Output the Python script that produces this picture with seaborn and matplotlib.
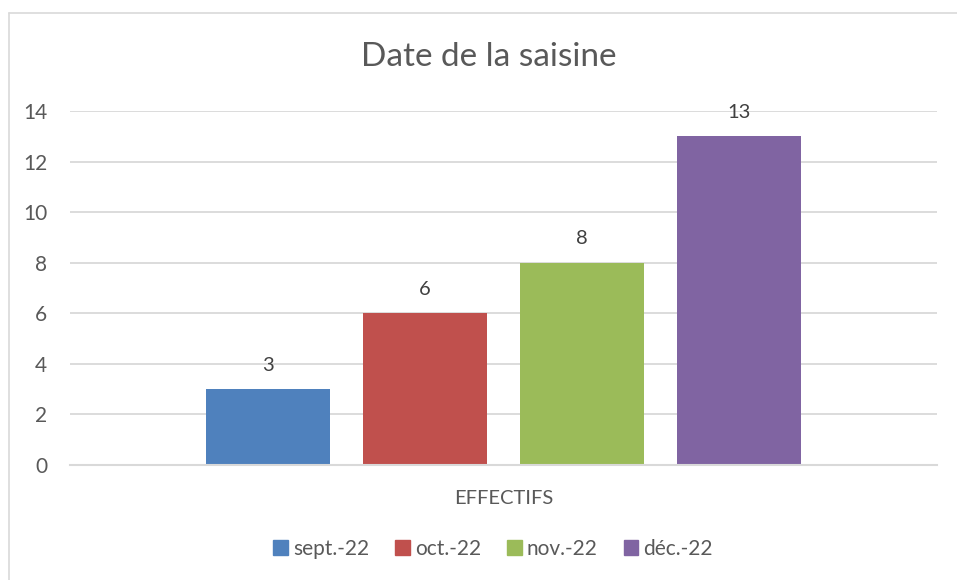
import matplotlib
matplotlib.use("Agg")
import matplotlib.pyplot as plt
import pandas as pd
import seaborn as sns
from matplotlib.lines import Line2D

# chart data
categories = ["EFFECTIFS"]
months = ["sept.-22", "oct.-22", "nov.-22", "déc.-22"]
counts = [3, 6, 8, 13]
colors = ["#4F81BD", "#C0504D", "#9BBB59", "#8064A2"]
y_ticks = [0, 2, 4, 6, 8, 10, 12, 14]

df = pd.DataFrame({
    "categorie": categories * len(months),
    "mois": months,
    "effectif": counts,
})

sns.set_theme(style="white")
plt.rcParams["font.family"] = ["Lato", "DejaVu Sans"]
text_grey = "#595959"

W, H = 957, 580
fig = plt.figure(figsize=(W / 100, H / 100), dpi=100)
ax = fig.add_axes([70 / W, 1 - 465 / H, (937 - 70) / W, (465 - 111) / H])

sns.barplot(data=df, x="categorie", y="effectif", hue="mois",
            hue_order=months, palette=colors, width=0.724, gap=0.21,
            saturation=1, linewidth=0, ax=ax, legend=True)

ax.set_xlim(-0.5, 0.5)
ax.set_ylim(0, 14)
ax.set_yticks(y_ticks)
ax.grid(axis="y", color="#D9D9D9", linewidth=1.3)
ax.set_axisbelow(True)
for side in ["top", "right", "left"]:
    ax.spines[side].set_visible(False)
ax.spines["bottom"].set_color("#D9D9D9")
ax.spines["bottom"].set_linewidth(1.5)
ax.tick_params(axis="both", length=0, colors=text_grey)
ax.tick_params(axis="y", labelsize=15, pad=16.5)
ax.tick_params(axis="x", labelsize=14.5, pad=18)
ax.set_xlabel("")
ax.set_ylabel("")

for container in ax.containers:
    ax.bar_label(container, padding=11, fontsize=14.5, color="#404040")

fig.text(489 / W, 1 - 57 / H, "Date de la saisine", ha="center", va="center",
         fontsize=24, color=text_grey)

handles = [plt.Rectangle((0, 0), 1, 1, color=c) for c in colors]
ax.legend(handles, months, loc="center", bbox_to_anchor=(493 / W, 1 - 549 / H),
          bbox_transform=fig.transFigure, ncol=4, frameon=False,
          fontsize=15, labelcolor=text_grey, handlelength=0.7,
          handleheight=0.7, handletextpad=0.25, columnspacing=1.25)

# chart border (left and top edges visible)
fig.add_artist(Line2D([8.5 / W, 8.5 / W], [0, 1 - 12.5 / H], transform=fig.transFigure,
                      color="#D9D9D9", linewidth=1.2))
fig.add_artist(Line2D([8.5 / W, 1], [1 - 12.5 / H, 1 - 12.5 / H], transform=fig.transFigure,
                      color="#D9D9D9", linewidth=1.2))

fig.savefig("out.png", dpi=100)
